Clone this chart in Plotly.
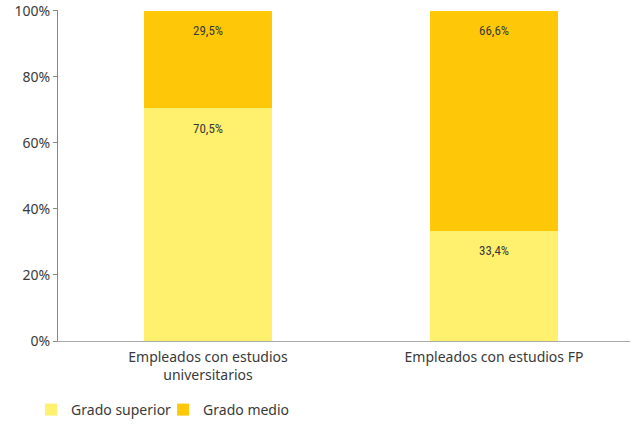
import plotly.graph_objects as go

categories = ["Empleados con estudios<br>universitarios", "Empleados con estudios FP"]
grado_superior = [70.5, 33.4]
grado_medio = [29.5, 66.6]
series_names = ["Grado superior", "Grado medio"]
tick_vals = [0, 20, 40, 60, 80, 100]
tick_text = ["0%", "20%", "40%", "60%", "80%", "100%"]

col_sup = "#FFF06E"
col_med = "#FEC808"
txt = "#3a3a3a"

fig = go.Figure()
fig.add_trace(go.Bar(x=categories, y=grado_superior, name=series_names[0],
                     marker=dict(color=col_sup, line=dict(width=0))))
fig.add_trace(go.Bar(x=categories, y=grado_medio, name=series_names[1],
                     marker=dict(color=col_med, line=dict(width=0))))

def fmt(v):
    return f"{v:.1f}".replace(".", ",") + "%"

for i, c in enumerate(categories):
    tops = [grado_superior[i], grado_superior[i] + grado_medio[i]]
    vals = [grado_superior[i], grado_medio[i]]
    for t, v in zip(tops, vals):
        fig.add_annotation(x=c, y=t, text=fmt(v), showarrow=False, yshift=-20,
                           font=dict(family="Liberation Sans Narrow, Roboto Condensed, sans-serif", size=13, color=txt))

fig.update_layout(
    barmode="stack",
    bargap=0.552,
    width=632, height=426,
    margin=dict(l=58, r=2, t=10, b=85),
    plot_bgcolor="white", paper_bgcolor="white",
    font=dict(family="Noto Sans, sans-serif", size=14, color=txt),
    showlegend=True,
    legend=dict(orientation="h", x=-0.047, xanchor="left", yref="container", y=0.0, yanchor="bottom",
                font=dict(size=14, color=txt), traceorder="normal", itemwidth=30,
                entrywidth=87),
    yaxis=dict(range=[0, 100.2], tickvals=tick_vals, ticktext=tick_text, showgrid=False,
               showline=True, linecolor="#888888", linewidth=1, ticks="outside", ticklen=4,
               tickcolor="#888888", zeroline=False, tickfont=dict(size=14, color=txt),
               automargin=False),
    xaxis=dict(range=[-0.5245, 1.4755], showline=True, linecolor="#aaaaaa", linewidth=1,
               showgrid=False, ticks="", tickfont=dict(size=14, color=txt), automargin=False,
               ticklabelstandoff=3),
)
fig.write_html("out.html", config={"displayModeBar": False},
               post_script="document.body.style.margin='0';document.body.style.overflow='hidden';")
